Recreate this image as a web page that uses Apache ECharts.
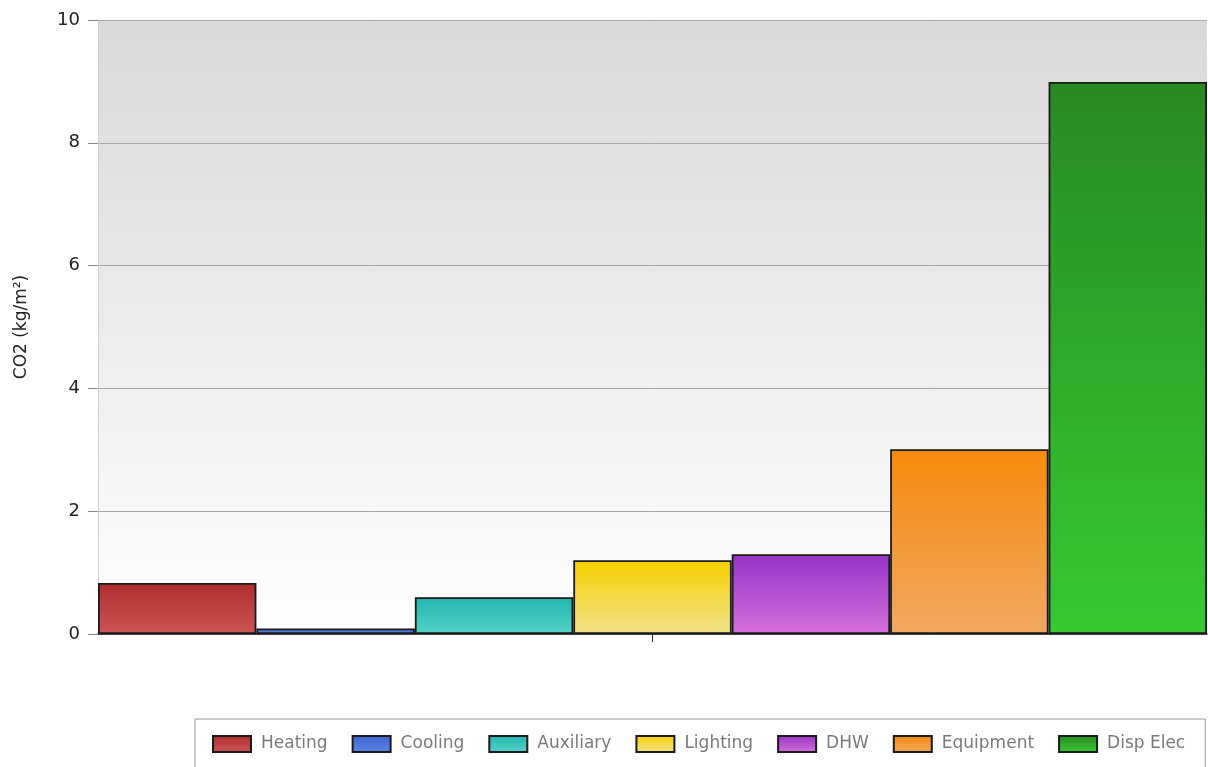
<!DOCTYPE html>
<html>
<head>
<meta charset="utf-8">
<script src="https://cdn.jsdelivr.net/npm/echarts@6/dist/echarts.min.js"></script>
<style>
  html, body { margin: 0; padding: 0; background: #ffffff; }
  #chart { width: 1208px; height: 767px; }
</style>
</head>
<body>
<div id="chart"></div>
<script>
// CO2 emissions per floor area by end use
const categories = [''];
const seriesNames = ['Heating', 'Cooling', 'Auxiliary', 'Lighting', 'DHW', 'Equipment', 'Disp Elec'];
const seriesValues = [0.83, 0.09, 0.60, 1.20, 1.30, 3.01, 8.99];
const yTicks = [0, 2, 4, 6, 8, 10];

// top / bottom gradient stops for each end use
const colorTop = ['#b02e2e', '#3f64d2', '#22b5ad', '#f7d000', '#9632c6', '#f68a0c', '#288a22'];
const colorBottom = ['#cc5555', '#5a84e4', '#55d2c8', '#f0e18a', '#d570da', '#f0a862', '#38c934'];

const FONT = '"DejaVu Sans", Verdana, sans-serif';

const chart = echarts.init(document.getElementById('chart'));

const series = seriesNames.map((name, i) => ({
  name: name,
  type: 'bar',
  barGap: '0%',
  barCategoryGap: '0%',
  data: [seriesValues[i]],
  itemStyle: {
    color: new echarts.graphic.LinearGradient(0, 0, 0, 1, [
      { offset: 0, color: colorTop[i] },
      { offset: 1, color: colorBottom[i] }
    ]),
    borderColor: '#1a1a1a',
    borderWidth: 1.8
  }
}));

chart.setOption({
  animation: false,
  grid: {
    left: 98,
    right: 1,
    top: 20,
    bottom: 133,
    show: true,
    borderWidth: 0,
    backgroundColor: new echarts.graphic.LinearGradient(0, 0, 0, 1, [
      { offset: 0, color: '#d9d9d9' },
      { offset: 1, color: '#ffffff' }
    ])
  },
  legend: {
    left: 195,
    right: 1,
    top: 719,
    padding: [16, 20, 40, 17],
    align: 'left',
    icon: 'rect',
    itemWidth: 38,
    itemHeight: 16,
    itemGap: 24,
    backgroundColor: '#ffffff',
    borderColor: '#9a9a9a',
    borderWidth: 1,
    textStyle: {
      color: '#7a7a7a',
      fontSize: 17,
      fontFamily: FONT,
      padding: [0, 0, 0, 5]
    },
    data: seriesNames
  },
  xAxis: {
    type: 'category',
    data: categories,
    axisLine: { lineStyle: { color: '#222222', width: 1.5 } },
    axisTick: { show: true, alignWithLabel: true, length: 8, lineStyle: { color: '#222222' } },
    axisLabel: { show: false }
  },
  yAxis: {
    type: 'value',
    min: yTicks[0],
    max: yTicks[yTicks.length - 1],
    interval: 2,
    name: 'CO2 (kg/m²)',
    nameLocation: 'middle',
    nameGap: 68,
    nameRotate: 90,
    nameTextStyle: {
      color: '#222222',
      fontSize: 17,
      fontFamily: FONT
    },
    axisLine: { show: true, lineStyle: { color: '#cfcfcf', width: 1 } },
    axisTick: { show: true, length: 10, lineStyle: { color: '#888888' } },
    axisLabel: {
      color: '#222222',
      fontSize: 18,
      margin: 18,
      fontFamily: FONT
    },
    splitLine: { show: true, lineStyle: { color: '#a6a6a6', width: 1 } }
  },
  series: series
});
</script>
</body>
</html>
